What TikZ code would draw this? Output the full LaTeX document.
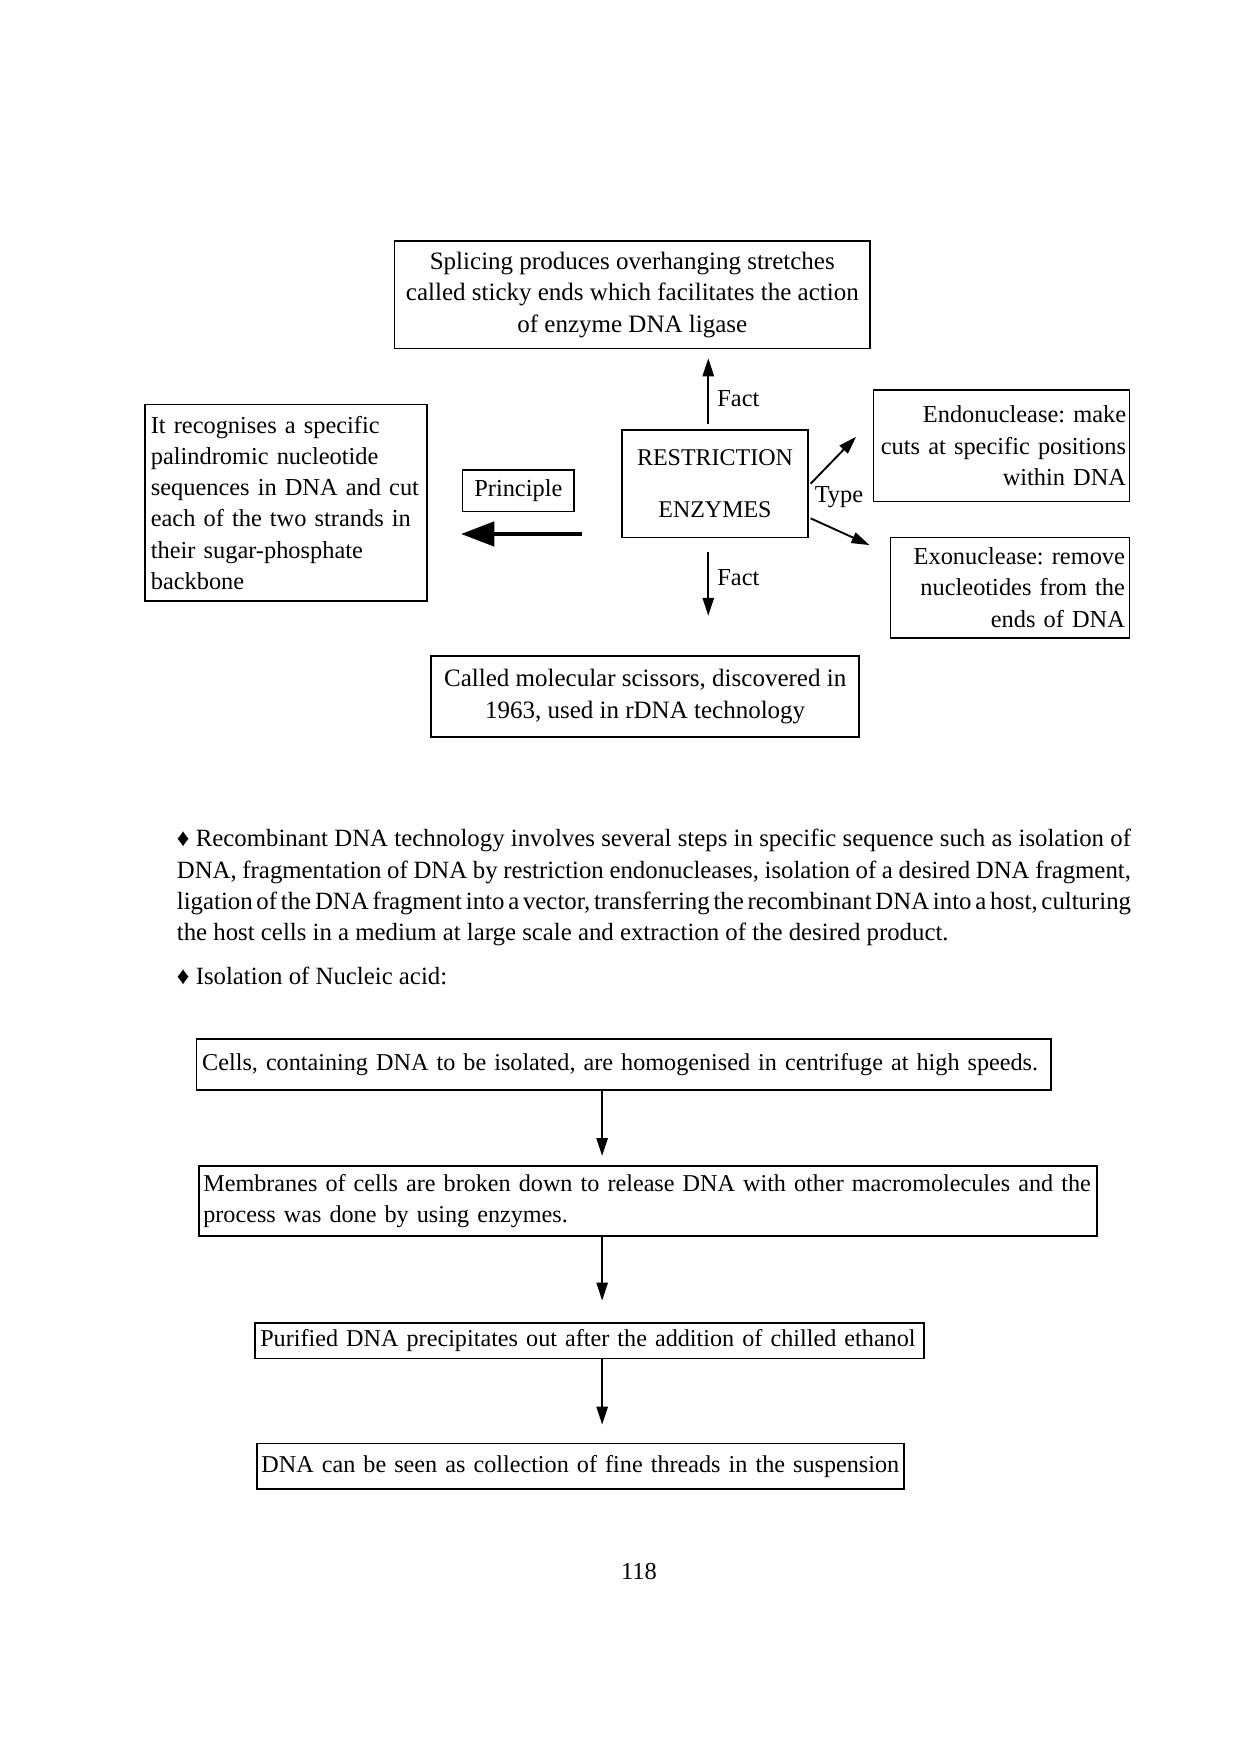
\documentclass[tikz,border=0pt]{standalone}
\usepackage{fontspec}
\setmainfont{Liberation Serif}
\usetikzlibrary{arrows.meta}
\newcommand{\uu}{0.536pt}
\newcommand{\nohy}{\hyphenpenalty=10000\exhyphenpenalty=10000\frenchspacing}
\newcommand{\fs}{\fontsize{11.7}{15}\selectfont\nohy}
\newcommand{\fb}{\fontsize{12}{15}\selectfont\nohy}
\newcommand{\fp}{\fontsize{11.9}{15}\selectfont\nohy}
\newcommand{\tight}{\spaceskip=0.16em plus 1em minus 0.02em}
\newcommand{\ff}{\fontsize{11.6}{15}\selectfont\nohy}
\begin{document}
\begin{tikzpicture}[x=0.536pt, y=-0.536pt,
  box/.style={draw, line width=0.8pt, inner sep=0pt, align=center, font=\fs},
  lbl/.style={inner sep=0pt, font=\fs},
  arr/.style={line width=0.9pt, -{Triangle[length=8.6pt, width=5.4pt]}},
  bigarr/.style={line width=2.2pt, -{Triangle[length=16pt, width=11.5pt]}}]
\fill[white] (0,0) rectangle (1110,1571);
\useasboundingbox (0,0) rectangle (1110,1571);

% --- concept map ---
\node[box, font=\fb, minimum width=426*\uu, minimum height=96*\uu] (top) at (566,264)
  {Splicing produces overhanging stretches\\called sticky ends which facilitates the action\\of enzyme DNA ligase};
\node[box, font=\fontsize{11.5}{15}\selectfont, minimum width=166*\uu, minimum height=96*\uu] (re) at (640,433)
  {RESTRICTION\\[9.7pt]ENZYMES};
\node[box, minimum width=100*\uu, minimum height=37*\uu] (pr) at (464,439.5) {Principle};
\node[box, minimum width=252*\uu, minimum height=176*\uu, text width=242*\uu, align=left] (left) at (256,450)
  {It recognises a specific\\palindromic nucleotide\\sequences in DNA and cut\\each of the two strands in\\their sugar-phosphate\\backbone};
\node[box, minimum width=229*\uu, minimum height=100*\uu, text width=223*\uu, align=right] (endo) at (896.5,399)
  {Endonuclease: make\\cuts at specific positions\\within DNA};
\node[box, minimum width=214*\uu, minimum height=90*\uu, text width=206*\uu, align=right] (exo) at (904,526)
  {Exonuclease: remove\\nucleotides from the\\ends of DNA};
\node[box, font=\fb, minimum width=383*\uu, minimum height=73*\uu] (bot) at (577.5,623.5)
  {Called molecular scissors, discovered in\\1963, used in rDNA technology};

\coordinate (fx) at (634,0);
\coordinate (py) at (0,478);
\draw[arr, shorten <=2.7pt, shorten >=4.3pt] (re.north -| fx) -- (top.south -| fx);
\draw[arr, shorten <=6.4pt, shorten >=18.8pt] (re.south -| fx) -- (bot.north -| fx);
\draw[bigarr, shorten <=18.8pt, shorten >=16pt] (re.west |- py) -- (left.east |- py);
\draw[arr] ([xshift=1pt]re.east) -- ([xshift=-8pt, yshift=4.3pt]endo.west);
\draw[arr] ([xshift=1pt, yshift=-16.6pt]re.east) -- ([xshift=-9.6pt, yshift=20.4pt]exo.west);

\node[lbl] (f1) at (661,357) {Fact};
\node[lbl] (f2) at (661,517) {Fact};
\node[lbl] (ty) at (751,445) {Type};

% --- paragraph ---
\node[anchor=north west, inner sep=0pt, text width=854*\uu, align=justify, font=\fp] (para) at (158,742)
  {♦ Recombinant DNA technology involves several steps in specific sequence such as isolation of\linebreak
   DNA, fragmentation of DNA by restriction endonucleases, isolation of a desired DNA fragment,\linebreak
   {\tight ligation of the DNA fragment into a vector, transferring the recombinant DNA into a host, culturing\linebreak}
   the host cells in a medium at large scale and extraction of the desired product.};
\node[anchor=west, inner sep=0pt, font=\fp] (iso) at (158,874) {♦ Isolation of Nucleic acid:};

% --- flowchart ---
\node[box, font=\ff, minimum width=765*\uu, minimum height=46*\uu, text width=755*\uu, align=left] (b1) at (558.5,953)
  {Cells, containing DNA to be isolated, are homogenised in centrifuge at high speeds.};
\node[box, font=\ff, minimum width=804*\uu, minimum height=63*\uu, text width=796*\uu, align=left] (b2) at (580,1075)
  {Membranes of cells are broken down to release DNA with other macromolecules and the\\process was done by using enzymes.};
\node[box, font=\ff, minimum width=599*\uu, minimum height=32*\uu, text width=589*\uu, align=left] (b3) at (527.5,1200)
  {Purified DNA precipitates out after the addition of chilled ethanol};
\node[box, font=\ff, minimum width=579*\uu, minimum height=41*\uu, text width=571*\uu, align=left] (b4) at (519.5,1312.5)
  {\mbox{DNA can be seen as collection of fine threads in the suspension}};

\coordinate (ax) at (539,0);
\draw[arr, shorten >=4.3pt] (b1.south -| ax) -- (b2.north -| ax);
\draw[arr, shorten >=10.2pt] (b2.south -| ax) -- (b3.north -| ax);
\draw[arr, shorten >=8.6pt] (b3.south -| ax) -- (b4.north -| ax);

\node[lbl] (pg) at (572,1407) {118};
\end{tikzpicture}
\end{document}
